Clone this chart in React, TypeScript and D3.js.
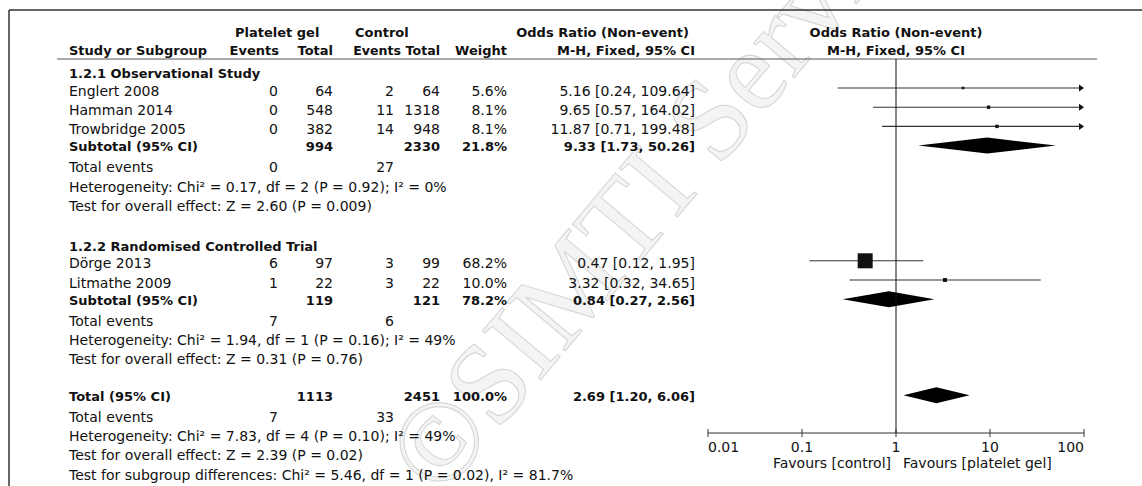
import React from 'react';
import * as d3 from 'd3';

// study rows
const studies = ['Englert 2008', 'Hamman 2014', 'Trowbridge 2005', 'Dörge 2013', 'Litmathe 2009'];
const studyGroup = [0, 0, 0, 1, 1];
const gelEvents = [0, 0, 0, 6, 1];
const gelTotal = [64, 548, 382, 97, 22];
const ctrlEvents = [2, 11, 14, 3, 3];
const ctrlTotal = [64, 1318, 948, 99, 22];
const weights = [5.6, 8.1, 8.1, 68.2, 10.0];
const oddsRatio = [5.16, 9.65, 11.87, 0.47, 3.32];
const ciLow = [0.24, 0.57, 0.71, 0.12, 0.32];
const ciHigh = [109.64, 164.02, 199.48, 1.95, 34.65];

// subgroups
const groupNames = ['1.2.1 Observational Study', '1.2.2 Randomised Controlled Trial'];
const groupGelTotal = [994, 119];
const groupCtrlTotal = [2330, 121];
const groupGelEvents = [0, 7];
const groupCtrlEvents = [27, 6];
const groupWeight = [21.8, 78.2];
const groupOR = [9.33, 0.84];
const groupLow = [1.73, 0.27];
const groupHigh = [50.26, 2.56];
const groupHet = [
  'Heterogeneity: Chi² = 0.17, df = 2 (P = 0.92); I² = 0%',
  'Heterogeneity: Chi² = 1.94, df = 1 (P = 0.16); I² = 49%',
];
const groupTest = ['Test for overall effect: Z = 2.60 (P = 0.009)', 'Test for overall effect: Z = 0.31 (P = 0.76)'];

// overall
const totalGel = 1113;
const totalCtrl = 2451;
const totalGelEvents = 7;
const totalCtrlEvents = 33;
const totalOR = 2.69;
const totalLow = 1.2;
const totalHigh = 6.06;
const totalNotes = [
  'Heterogeneity: Chi² = 7.83, df = 4 (P = 0.10); I² = 49%',
  'Test for overall effect: Z = 2.39 (P = 0.02)',
  'Test for subgroup differences: Chi² = 5.46, df = 1 (P = 0.02), I² = 81.7%',
];

const tickValues = [0.01, 0.1, 1, 10, 100];
const tickLabels = ['0.01', '0.1', '1', '10', '100'];

const FONT = 'DejaVu Sans';
const FS = 14; // regular
const FSB = 13; // bold

const fmt2 = d3.format('.2f');
const ciText = (o, l, h) => `${fmt2(o)} [${fmt2(l)}, ${fmt2(h)}]`;

const App = () => {
  const x = d3.scaleLog().domain([0.01, 100]).range([708, 1084]);
  const row = d3.scaleLinear().domain([0, 20]).range([88, 472]);
  const box = d3.scalePow().exponent(0.7).domain([0, 68.2]).range([0, 15]);
  const axisY = 433;

  // column anchors (right edges)
  const col = { label: 69, gEv: 279, gTot: 333, cEv: 394, cTot: 440, w: 507, or: 695 };

  const txt = (s, px, py, opts: any = {}) => (
    <text x={px} y={py} fontFamily={FONT} fontSize={opts.fs || (opts.bold ? FSB : FS)} fill="#111"
      textAnchor={opts.anchor || 'start'} fontWeight={opts.bold ? 'bold' : 'normal'}>{s}</text>
  );

  // build layout rows
  const rows: any[] = [];
  let r = 0;
  groupNames.forEach((g, gi) => {
    rows.push({ kind: 'heading', text: g, r: r - 1 });
    const idx = studies.map((_, i) => i).filter(i => studyGroup[i] === gi);
    idx.forEach(i => { rows.push({ kind: 'study', i, r }); r++; });
    rows.push({ kind: 'sub', gi, r }); r++;
    rows.push({ kind: 'events', a: groupGelEvents[gi], b: groupCtrlEvents[gi], r }); r++;
    rows.push({ kind: 'note', text: groupHet[gi], r }); r++;
    rows.push({ kind: 'note', text: groupTest[gi], r }); r++;
    r += 2;
  });
  const totalRow = r - 1;
  rows.push({ kind: 'total', r: totalRow });
  rows.push({ kind: 'events', a: totalGelEvents, b: totalCtrlEvents, r: totalRow + 1 });
  totalNotes.forEach((t, k) => rows.push({ kind: 'note', text: t, r: totalRow + 2 + k }));

  const diamond = (o, l, h, y) =>
    `M${x(l)},${y} L${x(o)},${y - 8} L${x(h)},${y} L${x(o)},${y + 8} Z`;

  const rb = 7.5; // baseline offset for regular rows
  const sb = 5.5; // baseline offset for summary rows

  return (
    <svg width={1142} height={486} style={{ position: 'absolute', left: 0, top: 0 }}>
      <rect width={1142} height={486} fill="#fff" />
      {/* watermark */}
      <text transform="translate(440,500) rotate(-50)" fontFamily="Liberation Serif" fontSize={116}
        fill="#f4f4f4" stroke="#d6d6d6" strokeWidth={1.1}>©SIMTI Servizi</text>

      {/* frame */}
      <line x1={9} x2={1142} y1={10} y2={10} stroke="#333" strokeWidth={1.5} />
      <line x1={9} x2={9} y1={10} y2={486} stroke="#333" strokeWidth={1.5} />
      <line x1={57} x2={1097} y1={59} y2={59} stroke="#555" strokeWidth={1.2} />

      {/* headers */}
      {txt('Platelet gel', 235, 36.5, { bold: true })}
      {txt('Control', 355, 36.5, { bold: true })}
      {txt('Odds Ratio (Non-event)', 689, 36.5, { bold: true, anchor: 'end' })}
      {txt('Study or Subgroup', col.label, 55, { bold: true })}
      {txt('Events', col.gEv, 55, { bold: true, anchor: 'end' })}
      {txt('Total', col.gTot, 55, { bold: true, anchor: 'end' })}
      {txt('Events', 401, 55, { bold: true, anchor: 'end', fs: 12.6 })}
      {txt('Total', col.cTot, 55, { bold: true, anchor: 'end', fs: 12.6 })}
      {txt('Weight', col.w, 55, { bold: true, anchor: 'end' })}
      {txt('M-H, Fixed, 95% CI', col.or, 55, { bold: true, anchor: 'end' })}
      {txt('Odds Ratio (Non-event)', x(1), 36.5, { bold: true, anchor: 'middle' })}
      {txt('M-H, Fixed, 95% CI', x(1), 55, { bold: true, anchor: 'middle' })}

      {rows.map((d, k) => {
        const y = row(d.r);
        if (d.kind === 'heading') return <g key={k}>{txt(d.text, col.label, y + 9.2, { bold: true })}</g>;
        if (d.kind === 'note') return <g key={k}>{txt(d.text, col.label, y + rb)}</g>;
        if (d.kind === 'events')
          return (
            <g key={k}>
              {txt('Total events', col.label, y + rb)}
              {txt(d.a, col.gEv - 1, y + rb, { anchor: 'end' })}
              {txt(d.b, col.cEv, y + rb, { anchor: 'end' })}
            </g>
          );
        if (d.kind === 'study') {
          const i = d.i;
          const s = box(weights[i]);
          const hi = Math.min(ciHigh[i], 100);
          return (
            <g key={k}>
              {txt(studies[i], col.label, y + rb)}
              {txt(gelEvents[i], col.gEv - 1, y + rb, { anchor: 'end' })}
              {txt(gelTotal[i], col.gTot, y + rb, { anchor: 'end' })}
              {txt(ctrlEvents[i], col.cEv, y + rb, { anchor: 'end' })}
              {txt(ctrlTotal[i], col.cTot, y + rb, { anchor: 'end' })}
              {txt(`${weights[i].toFixed(1)}%`, col.w, y + rb, { anchor: 'end' })}
              {txt(ciText(oddsRatio[i], ciLow[i], ciHigh[i]), col.or, y + rb, { anchor: 'end' })}
              <line x1={x(ciLow[i])} x2={ciHigh[i] > 100 ? x(hi) - 4 : x(hi)} y1={y} y2={y} stroke="#333" strokeWidth={1.1} />
              {ciHigh[i] > 100 && (
                <path d={`M${x(hi) - 5},${y - 3.5} L${x(hi)},${y} L${x(hi) - 5},${y + 3.5} Z`} fill="#111" />
              )}
              <rect x={x(oddsRatio[i]) - s / 2} y={y - s / 2} width={s} height={s} fill="#111" />
            </g>
          );
        }
        if (d.kind === 'sub') {
          const g = d.gi;
          return (
            <g key={k}>
              {txt('Subtotal (95% CI)', col.label, y + sb, { bold: true })}
              {txt(groupGelTotal[g], col.gTot, y + sb, { bold: true, anchor: 'end' })}
              {txt(groupCtrlTotal[g], col.cTot, y + sb, { bold: true, anchor: 'end' })}
              {txt(`${groupWeight[g].toFixed(1)}%`, col.w, y + sb, { bold: true, anchor: 'end' })}
              {txt(ciText(groupOR[g], groupLow[g], groupHigh[g]), col.or, y + sb, { bold: true, anchor: 'end' })}
              <path d={diamond(groupOR[g], groupLow[g], groupHigh[g], y)} fill="#000" />
            </g>
          );
        }
        // total
        return (
          <g key={k}>
            {txt('Total (95% CI)', col.label, y + sb, { bold: true })}
            {txt(totalGel, col.gTot, y + sb, { bold: true, anchor: 'end' })}
            {txt(totalCtrl, col.cTot, y + sb, { bold: true, anchor: 'end' })}
            {txt('100.0%', col.w, y + sb, { bold: true, anchor: 'end' })}
            {txt(ciText(totalOR, totalLow, totalHigh), col.or, y + sb, { bold: true, anchor: 'end' })}
            <path d={diamond(totalOR, totalLow, totalHigh, y)} fill="#000" />
          </g>
        );
      })}

      {/* null line */}
      <line x1={x(1)} x2={x(1)} y1={59} y2={axisY} stroke="#111" strokeWidth={1} />

      {/* axis */}
      <line x1={x(0.01)} x2={x(100)} y1={axisY} y2={axisY} stroke="#333" strokeWidth={1} />
      {tickValues.map((t, i) => (
        <g key={t}>
          <line x1={x(t)} x2={x(t)} y1={axisY - 4} y2={axisY + 4} stroke="#333" strokeWidth={1} />
          {txt(tickLabels[i], x(t), axisY + 19,
            { anchor: i === 0 ? 'start' : i === tickValues.length - 1 ? 'end' : 'middle' })}
        </g>
      ))}
      {txt('Favours [control]', x(1) - 5, axisY + 35, { anchor: 'end' })}
      {txt('Favours [platelet gel]', x(1) + 7, axisY + 35)}
    </svg>
  );
};

export default App;
